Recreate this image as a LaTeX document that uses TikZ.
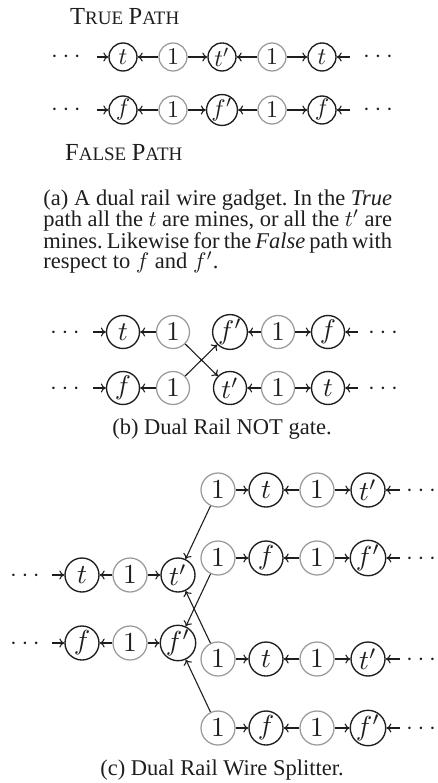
\RequirePackage{fix-cm}
\documentclass[tikz,border=0pt]{standalone}
\usepackage[no-math]{fontspec}
\setmainfont{Liberation Serif}
\usetikzlibrary{arrows.meta}

\definecolor{ink}{HTML}{1E1E1E}
\definecolor{ringgray}{HTML}{9A9A9A}

% captions are set at 10pt and enlarged as a whole
\newcommand\capfont{\fontsize{10}{9.33}\selectfont}
\newcommand\scword[2]{{\fontsize{24.5}{24}\selectfont #1}{\fontsize{19}{19}\selectfont #2}}
% one justified caption line: even interword spaces that fill the measure
\newcommand\railline[1]{{\frenchspacing\spaceskip=0.12em plus 1fil\relax\makebox[155pt][s]{#1}}}
% circle labels and ellipses, enlarged from 10pt
\newcommand\lblscale{2.5}
\newcommand\lbl[1]{\scalebox{\lblscale}{$#1$}}
\newcommand\ellip{\scalebox{2.45}{${\cdot}\hspace{1.9pt}{\cdot}\hspace{1.9pt}{\cdot}$}}

\tikzset{
  var/.style={circle, draw=ink, line width=1.35pt, inner sep=0pt, text=ink},
  one/.style={circle, draw=ringgray, line width=1.25pt, inner sep=0pt, text=ink},
  link/.style={draw=ink, line width=1.1pt, -{To[length=5pt,width=9pt]}},
  dotsnode/.style={inner sep=0pt, anchor=base, text=ink},
  captext/.style={inner sep=0pt, anchor=base west, text=ink, font=\capfont, scale=2.25, transform shape},
  capmid/.style={inner sep=0pt, anchor=base, text=ink, font=\capfont, scale=2.25, transform shape},
  heading/.style={inner sep=0pt, anchor=base west, text=ink},
}

\begin{document}
\begin{tikzpicture}[x=1pt, y=-1pt]
\useasboundingbox (0,0) rectangle (437,783);

% ---------------- (a) dual rail wire ----------------
\node[heading] (truelbl) at (70,25) {\scword{T}{RUE}\hspace{5.5pt}\scword{P}{ATH}};
\node[heading] (falselbl) at (65,161) {\scword{F}{ALSE}\hspace{5.5pt}\scword{P}{ATH}};

\begin{scope}[var/.append style={minimum size=28pt},
              one/.append style={minimum size=28pt}]
  \renewcommand\lblscale{2.4}
  % true rail
  \node[dotsnode] (aTdl) at (66,63) {\ellip};
  \coordinate (aTl) at (97,57);
  \node[var] (aT1) at (123,57) {\lbl{t}};
  \node[one] (aT2) at (173,57) {\lbl{1}};
  \node[var] (aT3) at (222,57) {\lbl{t'}};
  \node[one] (aT4) at (272,57) {\lbl{1}};
  \node[var] (aT5) at (322,57) {\lbl{t}};
  \coordinate (aTr) at (350,57);
  \node[dotsnode] (aTdr) at (378,63) {\ellip};
  \draw[link] (aTl) -- (aT1);
  \draw[link] (aT2) -- (aT1);
  \draw[link] (aT2) -- (aT3);
  \draw[link] (aT4) -- (aT3);
  \draw[link] (aT4) -- (aT5);
  \draw[link] (aTr) -- (aT5);
  % false rail
  \node[dotsnode] (aFdl) at (66,116) {\ellip};
  \coordinate (aFl) at (97,110);
  \node[var] (aF1) at (123,110) {\lbl{f}};
  \node[one] (aF2) at (173,110) {\lbl{1}};
  \node[var] (aF3) at (222,110) {\lbl{f'}};
  \node[one] (aF4) at (272,110) {\lbl{1}};
  \node[var] (aF5) at (322,110) {\lbl{f}};
  \coordinate (aFr) at (350,110);
  \node[dotsnode] (aFdr) at (378,116) {\ellip};
  \draw[link] (aFl) -- (aF1);
  \draw[link] (aF2) -- (aF1);
  \draw[link] (aF2) -- (aF3);
  \draw[link] (aF4) -- (aF3);
  \draw[link] (aF4) -- (aF5);
  \draw[link] (aFr) -- (aF5);
\end{scope}

\node[captext] (capa1) at (43,206) {\railline{(a) A dual rail wire gadget. In the \textit{True}}};
\node[captext] (capa2) at (43,227) {\railline{path all the $t$ are mines, or all the $t'$ are}};
\node[captext] (capa3) at (43,248) {\railline{mines. Likewise for the \textit{False} path with}};
\node[captext] (capa4) at (43,269) {respect to $f$ and $f'$.};

% ---------------- (b) NOT gate ----------------
\begin{scope}[var/.append style={minimum size=33pt},
              one/.append style={minimum size=33pt}]
  \renewcommand\lblscale{2.7}
  \node[dotsnode] (bTdl) at (65,338) {\ellip};
  \coordinate (bTl) at (93,332);
  \node[var] (bT1) at (123,332) {\lbl{t}};
  \node[one] (bT2) at (173,332) {\lbl{1}};
  \node[var] (bT3) at (230,332) {\lbl{f'}};
  \node[one] (bT4) at (278,332) {\lbl{1}};
  \node[var] (bT5) at (328,332) {\lbl{f}};
  \coordinate (bTr) at (358,332);
  \node[dotsnode] (bTdr) at (383,338) {\ellip};

  \node[dotsnode] (bFdl) at (65,394) {\ellip};
  \coordinate (bFl) at (93,388);
  \node[var] (bF1) at (123,388) {\lbl{f}};
  \node[one] (bF2) at (173,388) {\lbl{1}};
  \node[var] (bF3) at (230,388) {\lbl{t'}};
  \node[one] (bF4) at (278,388) {\lbl{1}};
  \node[var] (bF5) at (328,388) {\lbl{t}};
  \coordinate (bFr) at (358,388);
  \node[dotsnode] (bFdr) at (383,394) {\ellip};

  \draw[link] (bTl) -- (bT1);
  \draw[link] (bT2) -- (bT1);
  \draw[link] (bT4) -- (bT3);
  \draw[link] (bT4) -- (bT5);
  \draw[link] (bTr) -- (bT5);
  \draw[link] (bFl) -- (bF1);
  \draw[link] (bF2) -- (bF1);
  \draw[link] (bF4) -- (bF3);
  \draw[link] (bF4) -- (bF5);
  \draw[link] (bFr) -- (bF5);
  % the crossing
  \draw[link] (bT2) -- (bF3);
  \draw[link] (bF2) -- (bT3);
\end{scope}

\node[capmid] (capb) at (222,434) {(b) Dual Rail NOT gate.};

% ---------------- (c) wire splitter ----------------
\begin{scope}[var/.append style={minimum size=34pt},
              one/.append style={minimum size=34pt}]
  \renewcommand\lblscale{2.75}
  % incoming rails
  \node[dotsnode] (cTdl) at (25,581) {\ellip};
  \coordinate (cTl) at (52,575);
  \node[var] (cT1) at (82,575) {\lbl{t}};
  \node[one] (cT2) at (130,575) {\lbl{1}};
  \node[var] (cT3) at (178,575) {\lbl{t'}};
  \draw[link] (cTl) -- (cT1);
  \draw[link] (cT2) -- (cT1);
  \draw[link] (cT2) -- (cT3);

  \node[dotsnode] (cFdl) at (25,649) {\ellip};
  \coordinate (cFl) at (52,643);
  \node[var] (cF1) at (82,643) {\lbl{f}};
  \node[one] (cF2) at (130,643) {\lbl{1}};
  \node[var] (cF3) at (178,643) {\lbl{f'}};
  \draw[link] (cFl) -- (cF1);
  \draw[link] (cF2) -- (cF1);
  \draw[link] (cF2) -- (cF3);

  % outgoing rails
  \foreach \r/\yy/\v in {1/490/t, 2/558/f, 3/659/t, 4/728/f} {
    \node[one] (c\r a) at (218,\yy) {\lbl{1}};
    \node[var] (c\r b) at (266,\yy) {\lbl{\v}};
    \node[one] (c\r c) at (317,\yy) {\lbl{1}};
    \node[var] (c\r d) at (368,\yy) {\lbl{\v'}};
    \coordinate (c\r r) at (400,\yy);
    \node[dotsnode] (c\r dots) at (421,\yy+6) {\ellip};
    \draw[link] (c\r a) -- (c\r b);
    \draw[link] (c\r c) -- (c\r b);
    \draw[link] (c\r c) -- (c\r d);
    \draw[link] (c\r r) -- (c\r d);
  }
  \draw[link] (c1a) -- (cT3);
  \draw[link] (c2a) -- (cF3);
  \draw[link] (c3a) -- (cT3);
  \draw[link] (c4a) -- (cF3);
\end{scope}

\node[capmid] (capc) at (222,775) {(c) Dual Rail Wire Splitter.};
\end{tikzpicture}
\end{document}
